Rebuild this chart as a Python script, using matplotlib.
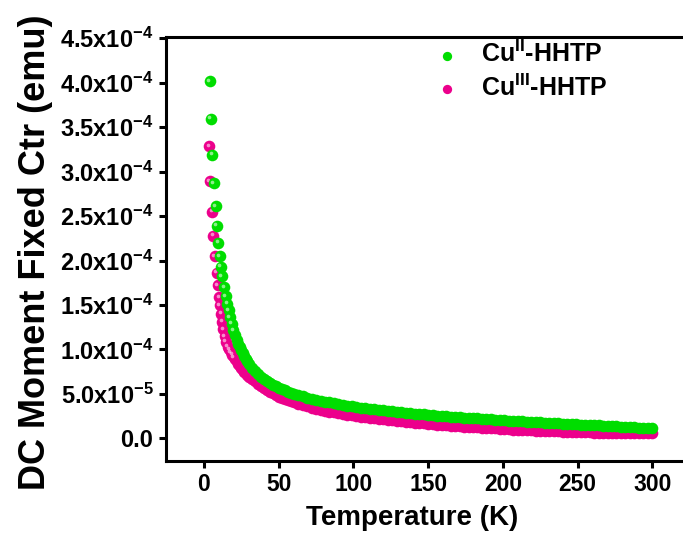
import matplotlib
matplotlib.use("Agg")
import matplotlib.pyplot as plt
from matplotlib.transforms import offset_copy

# Cu(II)-HHTP, temperature (K) and DC moment (x1e-4 emu)
temp_cu2 = [3.8, 4.5, 5.6, 6.5, 7.8, 8.7, 9.6, 10.7, 11.4, 12.0, 13.6, 14.7, 15.6, 16.5, 17.4, 18.5, 19.6,
            21, 22, 23, 24, 25, 26, 27, 28, 29, 30, 32, 34, 36, 38, 40, 42, 44, 46, 48, 50, 52, 54, 56, 58, 60,
            63, 66, 69, 72, 75, 78, 81, 84, 87, 90, 93, 96, 99, 102, 105, 108, 111, 114, 117, 120, 123, 126, 129,
            132, 135, 138, 141, 144, 147, 150, 153, 156, 159, 162, 165, 168, 171, 174, 177, 180, 183, 186, 189,
            192, 195, 198, 201, 204, 207, 210, 213, 216, 219, 222, 225, 228, 231, 234, 237, 240, 243, 246, 249,
            252, 255, 258, 261, 264, 267, 270, 273, 276, 279, 282, 285, 288, 291, 294, 297, 300]
moment_cu2 = [4.016, 3.596, 3.19, 2.87, 2.61, 2.39, 2.20, 2.05, 1.93, 1.825, 1.70, 1.60, 1.515, 1.44, 1.365, 1.29, 1.215,
              1.16, 1.11, 1.065, 1.03, 0.99, 0.955, 0.925, 0.895, 0.865, 0.84, 0.795, 0.755, 0.72, 0.69, 0.665,
              0.645, 0.625, 0.605, 0.585, 0.57, 0.555, 0.541, 0.527, 0.514, 0.502,
              0.486, 0.472, 0.459, 0.447, 0.436, 0.425, 0.414, 0.404, 0.394, 0.385, 0.377, 0.369, 0.361, 0.354,
              0.347, 0.34, 0.333, 0.327, 0.321, 0.315, 0.309, 0.303, 0.297, 0.292, 0.287, 0.282, 0.277, 0.273,
              0.269, 0.265, 0.261, 0.257, 0.253, 0.249, 0.245, 0.241, 0.238, 0.234, 0.231, 0.227, 0.224, 0.22,
              0.217, 0.213, 0.21, 0.206, 0.203, 0.2, 0.197, 0.194, 0.191, 0.188, 0.185, 0.182, 0.18, 0.177,
              0.174, 0.171, 0.168, 0.166, 0.163, 0.16, 0.158, 0.155, 0.153, 0.15, 0.148, 0.146, 0.143, 0.141,
              0.138, 0.135, 0.133, 0.13, 0.127, 0.124, 0.121, 0.118, 0.115, 0.112]

# Cu(III)-HHTP
temp_cu3 = [3.5, 4.0, 5.6, 6.2, 7.4, 8.5, 9.2, 10.2, 10.7, 11.6, 12.2, 12.9, 13.8, 14.7,
            16, 17, 18, 19, 20, 21, 22, 23, 24, 25, 26, 27, 28, 29, 30, 32, 34, 36, 38, 40, 42, 44, 46, 48, 50,
            52, 54, 56, 58, 60, 63, 66, 69, 72, 75, 78, 81, 84, 87, 90, 93, 96, 99, 102, 105, 108, 111, 114, 117,
            120, 123, 126, 129, 132, 135, 138, 141, 144, 147, 150, 153, 156, 159, 162, 165, 168, 171, 174, 177,
            180, 183, 186, 189, 192, 195, 198, 201, 204, 207, 210, 213, 216, 219, 222, 225, 228, 231, 234, 237,
            240, 243, 246, 249, 252, 255, 258, 261, 264, 267, 270, 273, 276, 279, 282, 285, 288, 291, 294, 297, 300]
moment_cu3 = [3.285, 2.89, 2.55, 2.28, 2.05, 1.865, 1.72, 1.59, 1.50, 1.40, 1.31, 1.225, 1.15, 1.085,
              1.03, 1.0, 0.97, 0.94, 0.915, 0.89, 0.865, 0.84, 0.815, 0.79, 0.77, 0.75, 0.73, 0.71, 0.695,
              0.665, 0.64, 0.615, 0.59, 0.567, 0.545, 0.525, 0.505, 0.487, 0.47, 0.455, 0.442, 0.43, 0.418, 0.405,
              0.39, 0.375, 0.36, 0.347, 0.335, 0.323, 0.312, 0.302, 0.292, 0.283, 0.275, 0.267, 0.26, 0.253,
              0.246, 0.239, 0.232, 0.226, 0.22, 0.214, 0.208, 0.202, 0.197, 0.192, 0.187, 0.182, 0.177, 0.172,
              0.168, 0.163, 0.159, 0.155, 0.151, 0.147, 0.143, 0.139, 0.136, 0.133, 0.13, 0.127, 0.124, 0.121,
              0.118, 0.115, 0.112, 0.109, 0.106, 0.103, 0.1, 0.097, 0.094, 0.092, 0.09, 0.088, 0.086, 0.084,
              0.082, 0.08, 0.078, 0.077, 0.075, 0.073, 0.072, 0.07, 0.069, 0.067, 0.066, 0.065, 0.064, 0.063,
              0.062, 0.061, 0.06, 0.059, 0.058, 0.058, 0.057, 0.057, 0.056, 0.056]

xticks = [0, 50, 100, 150, 200, 250, 300]
yticks = [0, 0.5e-4, 1.0e-4, 1.5e-4, 2.0e-4, 2.5e-4, 3.0e-4, 3.5e-4, 4.0e-4, 4.5e-4]
ytick_labels = ["0.0", "5.0x10$^{-5}$", "1.0x10$^{-4}$", "1.5x10$^{-4}$", "2.0x10$^{-4}$",
                "2.5x10$^{-4}$", "3.0x10$^{-4}$", "3.5x10$^{-4}$", "4.0x10$^{-4}$", "4.5x10$^{-4}$"]

plt.rcParams["font.family"] = ["Liberation Sans", "DejaVu Sans"]
plt.rcParams["font.weight"] = "bold"
plt.rcParams["mathtext.fontset"] = "custom"
plt.rcParams["mathtext.rm"] = "Liberation Sans:bold"
plt.rcParams["mathtext.bf"] = "Liberation Sans:bold"
plt.rcParams["mathtext.it"] = "Liberation Sans:bold"
plt.rcParams["mathtext.default"] = "rm"

green = "#00dd00"
pink = "#ec008c"

fig = plt.figure(figsize=(6.83, 5.35), dpi=100)
ax = fig.add_axes([0.243, 0.139, 0.757, 0.792])

m2 = [v * 1e-4 for v in moment_cu2]
m3 = [v * 1e-4 for v in moment_cu3]
h3 = ax.scatter(temp_cu3, m3, s=70, color=pink, linewidths=0, zorder=2, label="Cu$^{III}$-HHTP")
h2 = ax.scatter(temp_cu2, m2, s=70, color=green, linewidths=0, zorder=4, label="Cu$^{II}$-HHTP")

# little shine on the separate low-temperature spheres
shine = offset_copy(ax.transData, fig=fig, x=-1.5, y=1.5, units="dots")
lo3 = [(t, v) for t, v in zip(temp_cu3, m3) if t < 21]
lo2 = [(t, v) for t, v in zip(temp_cu2, m2) if t < 21]
ax.scatter([p[0] for p in lo3], [p[1] for p in lo3], s=7, color="white", alpha=0.55,
           linewidths=0, zorder=3, transform=shine)
ax.scatter([p[0] for p in lo2], [p[1] for p in lo2], s=7, color="white", alpha=0.55,
           linewidths=0, zorder=5, transform=shine)

ax.set_xlim(-25.4, 320.5)
ax.set_ylim(-2.5e-5, 4.515e-4)
ax.set_xticks(xticks)
ax.set_yticks(yticks)
ax.set_yticklabels(ytick_labels)
ax.tick_params(axis="both", which="major", direction="out", length=5, width=2.2, pad=4)
ax.tick_params(axis="x", labelsize=16.5)
ax.tick_params(axis="y", labelsize=17)

for side in ["left", "bottom", "top"]:
    ax.spines[side].set_linewidth(2.2)
ax.spines["right"].set_visible(False)

ax.set_xlabel("Temperature (K)", fontsize=20, fontweight="bold")
ax.xaxis.set_label_coords(0.476, -0.105)
ax.set_ylabel("DC Moment Fixed Ctr (emu)", fontsize=26, fontweight="bold")
ax.yaxis.set_label_coords(-0.219, 0.492)

ax.legend(handles=[h2, h3], loc="upper left", bbox_to_anchor=(0.49, 1.02), frameon=False,
          fontsize=18, handletextpad=0.75, labelspacing=0.28, borderpad=0, handlelength=1.2,
          markerscale=0.8)

fig.savefig("out.png", dpi=100)
